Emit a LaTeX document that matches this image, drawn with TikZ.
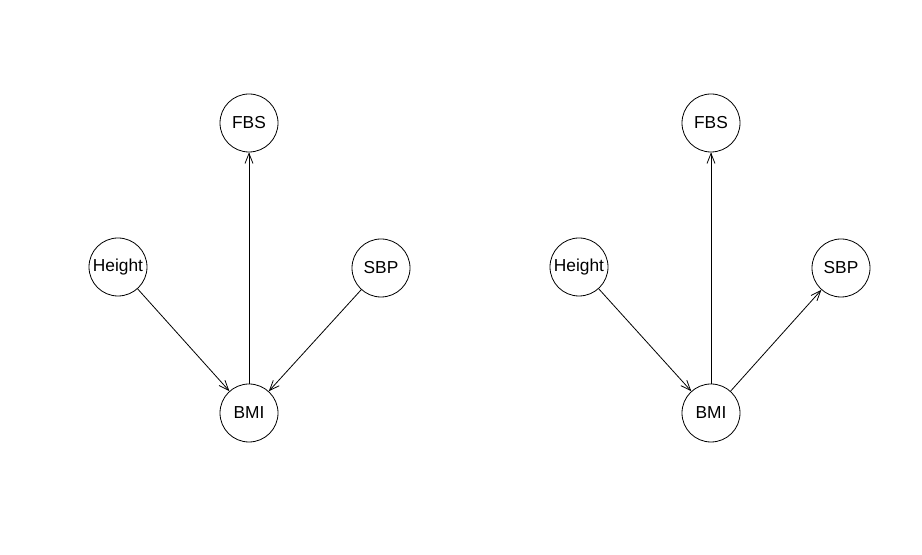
\documentclass[tikz,border=0pt]{standalone}
\usepackage{fontspec}
\setmainfont{Liberation Sans}
\usetikzlibrary{arrows.meta}

\tikzset{
  var/.style={draw, circle, minimum size=43.5pt, inner sep=0pt, line width=0.6pt, font=\fontsize{13}{15}\selectfont},
  edge/.style={line width=0.6pt, -{Straight Barb[length=7.5pt, width=6pt, line width=0.6pt]}}
}

\begin{document}
\begin{tikzpicture}[x=0.75pt, y=-0.75pt, line join=round, line cap=round]
	\useasboundingbox (0,0) rectangle (922,555);

	% ================= left graph =================
	\begin{scope}[shift={(0,0)}]
		\node[var] (fbsL)    at (249,123) {FBS};
		\node[var] (heightL) at (118,267) {Height};
		\node[var] (sbpL)    at (381,268) {SBP};
		\node[var] (bmiL)    at (249,413) {BMI};
		\draw[edge] (heightL) -- (bmiL);
		\draw[edge] (sbpL) -- (bmiL);
		\draw[edge] (bmiL) -- (fbsL);
	\end{scope}

	% ================= right graph =================
	\begin{scope}[shift={(0,0)}]
		\node[var] (fbsR)    at (711,123) {FBS};
		\node[var] (heightR) at (579,267) {Height};
		\node[var] (sbpR)    at (841,268) {SBP};
		\node[var] (bmiR)    at (711,413) {BMI};
		\draw[edge] (heightR) -- (bmiR);
		\draw[edge] (bmiR) -- (sbpR);
		\draw[edge] (bmiR) -- (fbsR);
	\end{scope}

\end{tikzpicture}
\end{document}
